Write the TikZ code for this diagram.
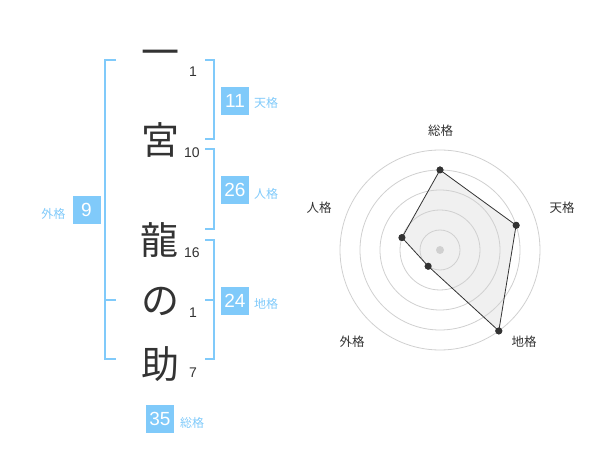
\documentclass[tikz,border=0pt]{standalone}
\usepackage{fontspec}
\setmainfont{Liberation Sans}
\newfontfamily\jp{Noto Sans CJK JP}
\definecolor{sky}{RGB}{128,202,250}
\definecolor{ink}{RGB}{51,51,51}
\definecolor{ringc}{RGB}{208,208,208}
\definecolor{areac}{RGB}{240,240,240}
\begin{document}
\begin{tikzpicture}[x=1pt,y=-1pt,
 kanji/.style={font=\jp\fontsize{38}{38}\selectfont, text=ink, inner sep=0pt},
 strokes/.style={font=\fontsize{14}{14}\selectfont, text=ink, inner sep=0pt},
 numbox/.style={fill=sky, text=white, minimum width=28pt, minimum height=28pt, inner sep=0pt, font=\fontsize{19}{19}\selectfont},
 kaku/.style={text=sky, font=\jp\fontsize{12}{12}\selectfont, inner sep=0pt},
 brk/.style={draw=sky, line width=2pt},
 ring/.style={draw=ringc, line width=0.8pt},
 axislbl/.style={font=\jp\fontsize{12.5}{12.5}\selectfont, text=ink, inner sep=0pt},
 dot/.style={circle, fill=ink, inner sep=0pt, minimum size=7pt},
 hub/.style={circle, fill=ringc, inner sep=0pt, minimum size=8pt}]
\useasboundingbox (0,0) rectangle (600,470);
% name characters
\node[kanji] (c1) at (160,58) {一};
\node[kanji] (c2) at (160,140) {宮};
\node[kanji] (c3) at (159,240) {龍};
\node[kanji] (c4) at (160,301) {の};
\node[kanji] (c5) at (160,364) {助};
% stroke counts
\node[strokes] (s1) at (193,72) {1};
\node[strokes] (s2) at (192,153) {10};
\node[strokes] (s3) at (192,253) {16};
\node[strokes] (s4) at (193,313) {1};
\node[strokes] (s5) at (193,373) {7};
% brackets
\draw[brk] (116,60) -- (105,60) -- (105,359) -- (116,359);
\draw[brk] (105,300) -- (116,300);
\draw[brk] (205,60) -- (214,60) -- (214,139) -- (205,139);
\draw[brk] (205,149) -- (214,149) -- (214,229) -- (205,229);
\draw[brk] (205,240) -- (214,240) -- (214,359) -- (205,359);
\draw[brk] (205,300) -- (214,300);
% boxes
\node[numbox] (ten) at (235,101) {11};
\node[kaku, anchor=west] (tenl) at (254,103) {天格};
\node[numbox] (jin) at (235,190) {26};
\node[kaku, anchor=west] (jinl) at (254,194) {人格};
\node[numbox] (chi) at (235,301) {24};
\node[kaku, anchor=west] (chil) at (254,304) {地格};
\node[numbox] (gai) at (86.5,210) {9};
\node[kaku, anchor=east] (gail) at (65.5,214) {外格};
\node[numbox] (sou) at (160,419) {35};
\node[kaku, anchor=west] (soul) at (180,423) {総格};
% radar
\coordinate (o) at (440,250);
\node[dot] (p1) at (440,170) {};
\node[dot] (p2) at (516.1,225.3) {};
\node[dot] (p3) at (498.8,330.9) {};
\node[dot] (p4) at (428.2,266.2) {};
\node[dot] (p5) at (402.0,237.6) {};
\fill[areac] (p1.center) -- (p2.center) -- (p3.center) -- (p4.center) -- (p5.center) -- cycle;
\foreach \r in {20,40,60,80,100} \draw[ring] (o) circle[radius=\r];
\draw[ink, line width=0.8pt] (p1.center) -- (p2.center) -- (p3.center) -- (p4.center) -- (p5.center) -- cycle;
\foreach \p in {p1,p2,p3,p4,p5} \fill[ink] (\p) circle[radius=3.5];
\node[hub] (hubc) at (o) {};
\node[axislbl] (a1) at (440.7,130.7) {総格};
\node[axislbl] (a2) at (562,208) {天格};
\node[axislbl] (a3) at (524,342) {地格};
\node[axislbl] (a4) at (352,342) {外格};
\node[axislbl] (a5) at (319,208) {人格};
\end{tikzpicture}
\end{document}
